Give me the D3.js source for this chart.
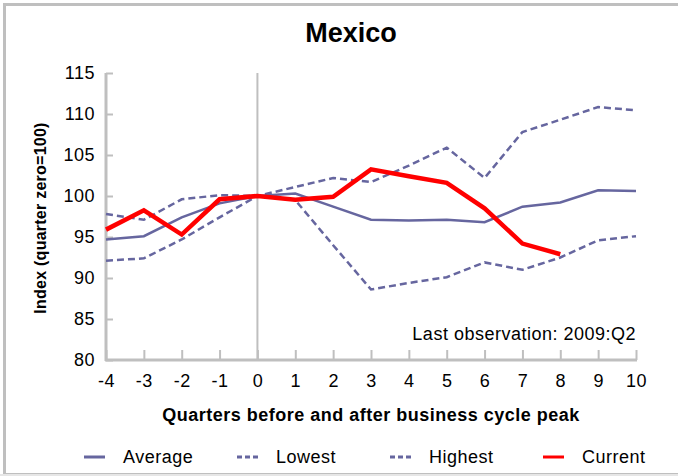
<!DOCTYPE html>
<html>
<head>
<meta charset="utf-8">
<style>
  body { margin: 0; background: #fff; }
  text { font-family: "Liberation Sans", Arial, sans-serif; }
</style>
</head>
<body>
<script src="https://d3js.org/d3.v7.min.js"></script>
<script>

const width = 678;
const height = 476;

// quarters relative to the business cycle peak
const quarters = [-4, -3, -2, -1, 0, 1, 2, 3, 4, 5, 6, 7, 8, 9, 10];
const average = [94.7, 95.1, 97.4, 99.1, 100.0, 100.3, 98.7, 97.1, 97.0, 97.1, 96.8, 98.7, 99.2, 100.7, 100.6];
const lowest  = [92.1, 92.4, 94.7, 97.4, 100.0, 99.5, 94.0, 88.6, 89.4, 90.1, 91.9, 91.0, 92.5, 94.6, 95.1];
const highest = [97.8, 97.1, 99.6, 100.1, 100.0, 101.1, 102.2, 101.7, 103.7, 105.9, 102.2, 107.8, 109.3, 110.85, 110.45];
const current = [95.9, 98.25, 95.3, 99.6, 100.0, 99.55, 99.9, 103.25, 102.4, 101.6, 98.5, 94.2, 92.9];
const yTicks = [80, 85, 90, 95, 100, 105, 110, 115];

const seriesColor = '#66669f';
const axisColor = '#bfbfbf';
const font = '"Liberation Sans", Arial, sans-serif';

const svg = d3.select('body')
              .append('svg')
              .attr('width', width)
              .attr('height', height);

// frame
svg.append('rect')
   .attr('x', 4.5).attr('y', 4.5)
   .attr('width', 700).attr('height', 470)
   .attr('fill', 'none')
   .attr('stroke', axisColor)
   .attr('stroke-width', 3);
svg.append('line')
   .attr('x1', 0).attr('x2', width)
   .attr('y1', 475).attr('y2', 475)
   .attr('stroke', '#e6e6e6').attr('stroke-width', 2);

const x = d3.scaleLinear().domain([-4, 10]).range([106, 636]);
const y = d3.scaleLinear().domain([80, 115]).range([360, 73]);

// title
svg.append('text')
   .attr('x', 351).attr('y', 42)
   .attr('text-anchor', 'middle')
   .attr('font-size', 27).attr('font-weight', 'bold')
   .text('Mexico');

// y axis
const yAxis = svg.append('g')
   .attr('transform', `translate(${x(-4)},0)`)
   .call(d3.axisRight(y).tickValues(yTicks).tickSize(7).tickFormat(d => String(d)));
yAxis.select('.domain').remove();
yAxis.selectAll('line').attr('stroke', axisColor).attr('stroke-width', 2);
yAxis.selectAll('text')
     .attr('x', -11).attr('text-anchor', 'end')
     .attr('font-size', 18).attr('fill', '#000')
     .attr('letter-spacing', 0.5)
     .style('font-family', font);

// x axis
const xAxis = svg.append('g')
   .attr('transform', `translate(0,${y(80)})`)
   .call(d3.axisTop(x).tickValues(quarters).tickSize(10).tickFormat(d => String(d)));
xAxis.select('.domain').remove();
xAxis.selectAll('line').attr('stroke', axisColor).attr('stroke-width', 2);
xAxis.selectAll('text')
     .attr('y', 27).attr('dy', 0)
     .attr('font-size', 18).attr('fill', '#000')
     .attr('letter-spacing', 0.5)
     .style('font-family', font);

// axis lines
svg.append('line')
   .attr('x1', x(-4)).attr('x2', x(-4))
   .attr('y1', y(115)).attr('y2', y(80) + 1)
   .attr('stroke', axisColor).attr('stroke-width', 3);
svg.append('line')
   .attr('x1', x(-4) - 1).attr('x2', x(10) + 1)
   .attr('y1', y(80)).attr('y2', y(80))
   .attr('stroke', axisColor).attr('stroke-width', 3);

// peak marker
svg.append('line')
   .attr('x1', x(0)).attr('x2', x(0))
   .attr('y1', y(115)).attr('y2', y(80))
   .attr('stroke', axisColor).attr('stroke-width', 2);

// axis titles
svg.append('text')
   .attr('transform', 'translate(46,218) rotate(-90)')
   .attr('text-anchor', 'middle')
   .attr('font-size', 16).attr('font-weight', 'bold')
   .attr('letter-spacing', 0.25)
   .text('Index (quarter zero=100)');

svg.append('text')
   .attr('x', 371).attr('y', 421)
   .attr('text-anchor', 'middle')
   .attr('font-size', 18).attr('font-weight', 'bold')
   .attr('letter-spacing', 0.5)
   .text('Quarters before and after business cycle peak');

svg.append('text')
   .attr('x', x(10)).attr('y', 340)
   .attr('text-anchor', 'end')
   .attr('font-size', 18)
   .attr('letter-spacing', 0.5)
   .text('Last observation: 2009:Q2');

// series
const line = d3.line()
   .x((d, i) => x(quarters[i]))
   .y(d => y(d));

const series = [
  { name: 'Lowest', values: lowest, color: seriesColor, width: 2.5, dash: '7,4' },
  { name: 'Highest', values: highest, color: seriesColor, width: 2.5, dash: '7,4' },
  { name: 'Average', values: average, color: seriesColor, width: 2.5, dash: null },
  { name: 'Current', values: current, color: '#ff0000', width: 4.5, dash: null }
];

svg.selectAll('path.series')
   .data(series)
   .enter()
   .append('path')
   .attr('class', 'series')
   .attr('d', d => line(d.values))
   .attr('fill', 'none')
   .attr('stroke', d => d.color)
   .attr('stroke-width', d => d.width)
   .attr('stroke-dasharray', d => d.dash)
   .attr('stroke-linejoin', 'miter');

// legend
const legendItems = [
  { name: 'Average', color: seriesColor, dash: null, x: 84 },
  { name: 'Lowest', color: seriesColor, dash: '5,3', x: 237 },
  { name: 'Highest', color: seriesColor, dash: '5,3', x: 390 },
  { name: 'Current', color: '#ff0000', dash: null, x: 543 }
];

const legend = svg.selectAll('g.legend')
   .data(legendItems)
   .enter()
   .append('g')
   .attr('class', 'legend')
   .attr('transform', d => `translate(${d.x},457)`);

legend.append('line')
   .attr('x1', 0).attr('x2', 21)
   .attr('y1', 0).attr('y2', 0)
   .attr('stroke', d => d.color)
   .attr('stroke-width', 3)
   .attr('stroke-dasharray', d => d.dash);

legend.append('text')
   .attr('x', 39).attr('y', 6)
   .attr('font-size', 18)
   .attr('letter-spacing', 0.5)
   .text(d => d.name);

</script>
</body>
</html>
